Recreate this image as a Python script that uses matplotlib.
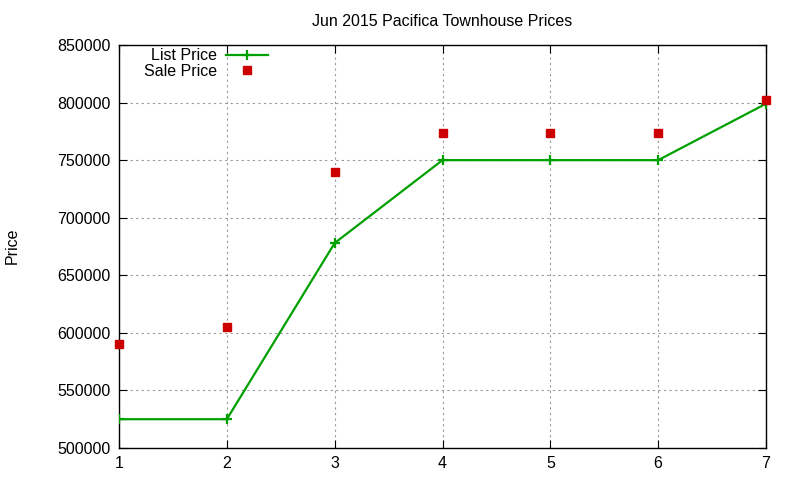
import matplotlib
matplotlib.use("Agg")
import matplotlib.pyplot as plt

plt.rcParams['font.family'] = ['Liberation Sans', 'DejaVu Sans']

# data
days = [1, 2, 3, 4, 5, 6, 7]
list_price = [525000, 525000, 678000, 750000, 750000, 750000, 799000]
sale_price = [590000, 605000, 740000, 774000, 774000, 774000, 802000]

fig = plt.figure(figsize=(8, 4.8), dpi=100)
ax = fig.add_axes([119 / 800, 1 - 448 / 480, (766 - 119) / 800, (448 - 45) / 480])

ax.plot(days, list_price, color='#00a000', lw=1.6, marker='+', ms=7, mew=1.6,
        label='List Price', zorder=3)
ax.plot(days, sale_price, ls='none', color='#cc0000', marker='s', ms=6,
        label='Sale Price', zorder=4, clip_on=False)

ax.set_xlim(1, 7)
ax.set_ylim(500000, 850000)
ax.set_xticks(days)
ax.set_yticks(range(500000, 850001, 50000))
ax.ticklabel_format(axis='y', style='plain', useOffset=False)

ax.grid(True, color='#999999', ls=(0, (2, 3)), lw=0.8)
ax.tick_params(direction='in', top=True, right=True, labelsize=11.5, length=6, pad=6)
for s in ax.spines.values():
    s.set_linewidth(1.0)
    s.set_color('black')

ax.set_title('Jun 2015 Pacifica Townhouse Prices', fontsize=11.5, pad=14)
fig.text(12 / 800, 1 - 246 / 480, 'Price', rotation=90, va='center', ha='center', fontsize=11.5)

leg = ax.legend(loc='upper left', bbox_to_anchor=(0.021, 1.02), frameon=False,
                markerfirst=False, fontsize=11.5, handlelength=2.6,
                handletextpad=0.6, labelspacing=0.05, borderaxespad=0.3)

fig.savefig('out.png', dpi=100)
